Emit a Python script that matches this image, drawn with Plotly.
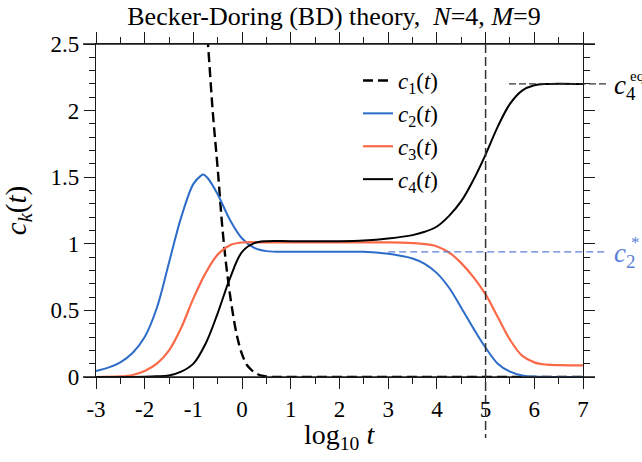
import plotly.graph_objects as go

# ---- data: concentrations c_k versus log10 t ----
C1_X = [-0.8, -0.7, -0.6, -0.5, -0.4, -0.3, -0.2, -0.1, 0.0, 0.1, 0.2, 0.3, 0.4,
        0.5, 0.6, 0.7, 1.0, 2.0, 3.0, 4.0, 5.0, 6.0, 7.0]
C1_Y = [3.0, 2.5, 1.98, 1.56, 1.1, 0.76, 0.5, 0.3, 0.17, 0.09, 0.05, 0.025, 0.01,
        0.004, 0.001, 0.0, 0.0, 0.0, 0.0, 0.0, 0.0, 0.0, 0.0]

C2_X = [-3.0, -2.75, -2.5, -2.25, -2.0, -1.75, -1.5, -1.25, -1.0, -0.85, -0.8, -0.7,
        -0.5, -0.25, 0.0, 0.25, 0.5, 1.0, 1.5, 2.0, 2.5, 3.0, 3.25, 3.5, 3.75, 4.0,
        4.25, 4.5, 4.75, 5.0, 5.25, 5.5, 5.75, 6.0, 6.5, 7.0]
C2_Y = [0.045, 0.07, 0.11, 0.18, 0.3, 0.52, 0.86, 1.2, 1.45, 1.51, 1.52, 1.49,
        1.37, 1.18, 1.04, 0.97, 0.945, 0.94, 0.94, 0.94, 0.94, 0.925, 0.91, 0.89, 0.85, 0.78,
        0.67, 0.52, 0.365, 0.22, 0.10, 0.04, 0.012, 0.003, 0.0, 0.0]

C3_X = [-3.0, -2.5, -2.25, -2.0, -1.75, -1.5, -1.25, -1.0, -0.75, -0.5, -0.25, 0.0,
        0.5, 1.0, 2.0, 3.0, 3.5, 3.75, 4.0, 4.25, 4.5, 4.75, 5.0, 5.25, 5.5, 5.75,
        6.0, 6.25, 6.5, 7.0]
C3_Y = [0.0, 0.004, 0.015, 0.045, 0.1, 0.2, 0.37, 0.59, 0.78, 0.92, 0.99, 1.01,
        1.01, 1.01, 1.01, 1.01, 1.005, 0.998, 0.98, 0.935, 0.855, 0.75, 0.62, 0.45, 0.28, 0.16,
        0.11, 0.093, 0.089, 0.088]

C4_X = [-3.0, -2.0, -1.75, -1.5, -1.25, -1.0, -0.75, -0.5, -0.25, 0.0, 0.25, 0.5,
        1.0, 2.0, 2.5, 3.0, 3.5, 3.75, 4.0, 4.25, 4.5, 4.75, 5.0, 5.25, 5.5, 5.75,
        6.0, 6.25, 7.0]
C4_Y = [0.0, 0.002, 0.005, 0.012, 0.04, 0.1, 0.25, 0.48, 0.74, 0.94, 1.005, 1.02,
        1.02, 1.02, 1.025, 1.04, 1.065, 1.09, 1.13, 1.21, 1.32, 1.48, 1.67, 1.88, 2.05, 2.15,
        2.19, 2.2, 2.2]

C4_EQ = 2.20          # equilibrium value of c4
C2_STAR = 0.94        # quasi-steady plateau of c2
C4_EQ_FROM = 5.48     # where the c4_eq guide starts
C2_STAR_FROM = 3.0    # where the c2* guide starts
T_MARK = 5.0          # vertical marker at log10 t = 5

X_RANGE = [-3, 7]
Y_RANGE = [0, 2.5]
X_TICKS = [-3, -2, -1, 0, 1, 2, 3, 4, 5, 6, 7]
X_TICK_LABELS = ["-3", "-2", "-1", "0", "1", "2", "3", "4", "5", "6", "7"]
Y_TICKS = [0, 0.5, 1, 1.5, 2, 2.5]
Y_TICK_LABELS = ["0", "0.5", "1", "1.5", "2", "2.5"]

SERIF = "Liberation Serif"
BLUE = "#2c6cc8"
ORANGE = "#fb6a48"
GUIDE_BLUE = "#5b80d6"
AXIS = "#1a1a1a"

# plot-area geometry (px)
W, H = 642, 462
ML, MR, MT, MB = 96, 59, 44, 85
PW, PH = W - ML - MR, H - MT - MB


def px(v):
    return (v - X_RANGE[0]) / (X_RANGE[1] - X_RANGE[0])


def py(v):
    return (v - Y_RANGE[0]) / (Y_RANGE[1] - Y_RANGE[0])


fig = go.Figure()

curve = dict(mode="lines")
fig.add_trace(go.Scatter(x=C1_X, y=C1_Y, name="<i>c</i><sub>1</sub>(<i>t</i>)",
                         line=dict(color="black", width=2.4, dash="10px,5px",
                                   shape="spline", smoothing=1.0), **curve))
fig.add_trace(go.Scatter(x=C2_X, y=C2_Y, name="<i>c</i><sub>2</sub>(<i>t</i>)",
                         line=dict(color=BLUE, width=2, shape="spline", smoothing=1.0), **curve))
fig.add_trace(go.Scatter(x=C3_X, y=C3_Y, name="<i>c</i><sub>3</sub>(<i>t</i>)",
                         line=dict(color=ORANGE, width=2.2, shape="spline", smoothing=1.0), **curve))
fig.add_trace(go.Scatter(x=C4_X, y=C4_Y, name="<i>c</i><sub>4</sub>(<i>t</i>)",
                         line=dict(color="black", width=2, shape="spline", smoothing=1.0), **curve))

ext_l = -13 / PW
ext_r = 1 + 12 / PW
guide_end = 1 + 24 / PW
shapes = [
    # horizontal frame lines run slightly past the corners
    dict(type="line", xref="paper", yref="paper", x0=ext_l, x1=ext_r, y0=0, y1=0,
         line=dict(color=AXIS, width=1.3)),
    dict(type="line", xref="paper", yref="paper", x0=ext_l, x1=ext_r, y0=1, y1=1,
         line=dict(color=AXIS, width=1.3)),
    # marker at log10 t = 5
    dict(type="line", xref="paper", yref="paper", x0=px(T_MARK), x1=px(T_MARK),
         y0=1, y1=-61 / PH, line=dict(color="#333333", width=1.5, dash="9px,4px")),
    # c4 equilibrium guide
    dict(type="line", xref="paper", yref="paper", x0=px(C4_EQ_FROM), x1=guide_end,
         y0=py(C4_EQ), y1=py(C4_EQ), line=dict(color="#333333", width=1.3, dash="7px,3px")),
    # c2* guide
    dict(type="line", xref="paper", yref="paper", x0=px(C2_STAR_FROM), x1=guide_end,
         y0=py(C2_STAR), y1=py(C2_STAR), line=dict(color=GUIDE_BLUE, width=1.3, dash="7px,4px")),
]

lab_x = 1 + 29 / PW
annotations = [
    # x-axis title
    dict(text="log<sub>10</sub> <i>t</i>", x=(339 - ML) / PW, y=-(59 / PH), xref="paper",
         yref="paper", xanchor="center", yanchor="middle", showarrow=False, borderpad=0,
         font=dict(family=SERIF, size=28, color="black")),
    dict(text="<i>c</i><sub>4</sub>", x=lab_x, y=py(C4_EQ) - 3 / PH, xref="paper", yref="paper",
         xanchor="left", yanchor="middle", showarrow=False,
         font=dict(family=SERIF, size=27, color="black")),
    dict(text="eq", x=1 + 45 / PW, y=py(C4_EQ) + 8 / PH, xref="paper", yref="paper",
         xanchor="left", yanchor="middle", showarrow=False,
         font=dict(family=SERIF, size=15, color="black")),
    dict(text="<i>c</i><sub>2</sub>", x=lab_x, y=py(C2_STAR) - 3 / PH, xref="paper", yref="paper",
         xanchor="left", yanchor="middle", showarrow=False,
         font=dict(family=SERIF, size=27, color=GUIDE_BLUE)),
    dict(text="*", x=1 + 46 / PW, y=py(C2_STAR) + 9 / PH, xref="paper", yref="paper",
         xanchor="left", yanchor="middle", showarrow=False,
         font=dict(family=SERIF, size=17, color=GUIDE_BLUE)),
]

axis_common = dict(
    showline=True, linecolor=AXIS, linewidth=1.3, mirror="allticks",
    ticks="outside", ticklen=11, tickwidth=1.3, tickcolor=AXIS,
    showgrid=False, zeroline=False,
    tickfont=dict(family=SERIF, size=23, color="black"),
)

fig.update_layout(
    width=W, height=H,
    margin=dict(l=ML, r=MR, t=MT, b=MB),
    paper_bgcolor="white", plot_bgcolor="white",
    font=dict(family=SERIF, color="black"),
    title=dict(text="Becker-Doring (BD) theory,  <i>N</i>=4, <i>M</i>=9",
               x=(334 - ML) / PW, xref="paper", xanchor="center",
               y=1 - 16 / H, yref="container", yanchor="middle",
               font=dict(family=SERIF, size=26, color="black")),
    xaxis=dict(range=X_RANGE, tickmode="array", tickvals=X_TICKS, ticktext=X_TICK_LABELS,
               minor=dict(tickmode="linear", tick0=0, dtick=0.5, ticks="outside",
                          ticklen=6, tickwidth=1.2, tickcolor=AXIS, showgrid=False),
               **axis_common),
    yaxis=dict(range=Y_RANGE, tickmode="array", tickvals=Y_TICKS, ticktext=Y_TICK_LABELS,
               minor=dict(tickmode="linear", tick0=0, dtick=0.1, ticks="outside",
                          ticklen=6, tickwidth=1.2, tickcolor=AXIS, showgrid=False),
               title=dict(text="<i>c<sub>k</sub></i>(<i>t</i>)", standoff=16,
                          font=dict(family=SERIF, size=29, color="black")),
               **axis_common),
    legend=dict(x=(358 - ML) / PW, y=1 - (59 - MT) / PH, xanchor="left", yanchor="top",
                bgcolor="rgba(0,0,0,0)", borderwidth=0,
                font=dict(family=SERIF, size=23, color="black"),
                itemwidth=30, tracegroupgap=0),
    shapes=shapes,
    annotations=annotations,
    showlegend=True,
)

fig.write_html("out.html")
